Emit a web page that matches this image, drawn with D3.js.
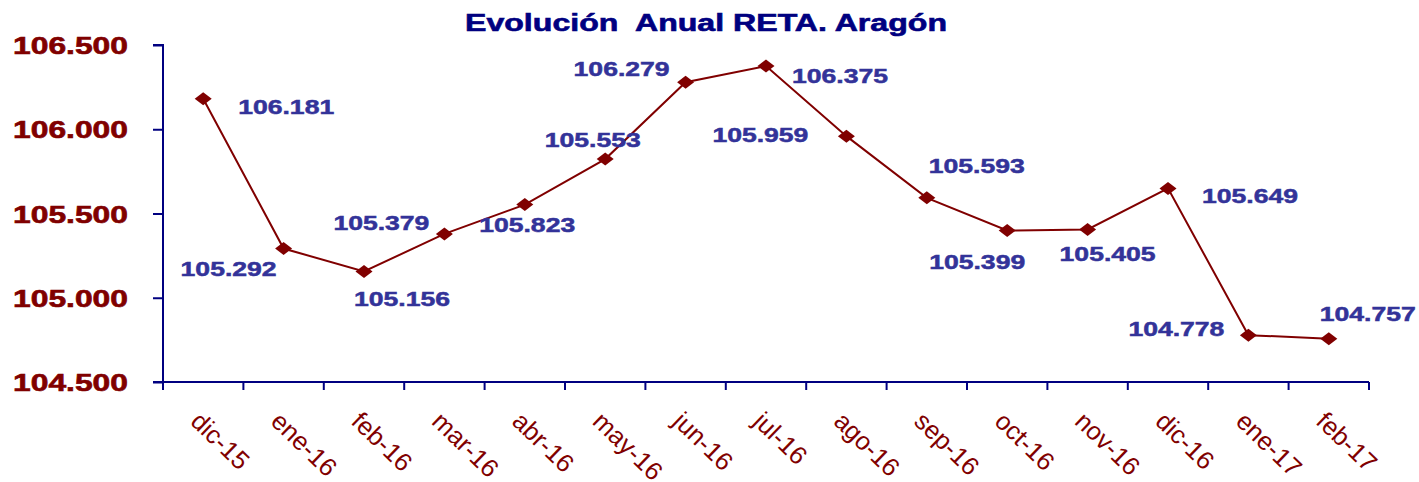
<!DOCTYPE html>
<html>
<head>
<meta charset="utf-8">
<script src="https://cdn.jsdelivr.net/npm/d3@7"></script>
<style>
  html, body { margin: 0; padding: 0; background: #fff; }
  svg { display: block; }
  text { white-space: pre; }
</style>
</head>
<body>
<div id="chart"></div>
<script>
// ---- Data ----
const title = "Evolución  Anual RETA. Aragón";
const categories = ["dic-15","ene-16","feb-16","mar-16","abr-16","may-16","jun-16","jul-16","ago-16","sep-16","oct-16","nov-16","dic-16","ene-17","feb-17"];
const values = [106181, 105292, 105156, 105379, 105553, 105823, 106279, 106375, 105959, 105593, 105399, 105405, 105649, 104778, 104757];
const yTicks = [104500, 105000, 105500, 106000, 106500];

// ---- Layout (label centre offsets from each point, in px) ----
const labelOffsets = [
  [83, 8], [-55, 20], [38, 28], [-63, -11], [68, -65], [-78, 66],
  [-64, -13], [74, 10], [-86, -1], [50, -32], [-30, 31], [20, 24],
  [82, 8], [-72, -6], [39, -25]
];

const W = 1419, H = 482;
const x0 = 163, x1 = 1369, yTop = 45, yBot = 382;

const svg = d3.select("#chart").append("svg").attr("width", W).attr("height", H);

const x = d3.scaleBand().domain(categories).range([x0, x1]).padding(0);
const y = d3.scaleLinear().domain([104500, 106500]).range([yBot, yTop]);

const fmt = v => d3.format(",")(v).replace(/,/g, ".");
const navy = "#000080", red = "#800000", blue = "#333399";
const FONT = "Arial, 'Liberation Sans', sans-serif";

// Title
svg.append("text")
  .attr("x", 706).attr("y", 31)
  .attr("text-anchor", "middle")
  .attr("font-family", FONT)
  .attr("font-weight", "bold").attr("font-size", 23.5)
  .attr("fill", navy).attr("stroke", navy).attr("stroke-width", 0.6)
  .attr("textLength", 482).attr("lengthAdjust", "spacingAndGlyphs")
  .text(title);

// Y axis
const yAxis = d3.axisLeft(y).tickValues(yTicks).tickSize(10).tickFormat("");
const gy = svg.append("g").attr("transform", `translate(${x0},0)`).call(yAxis);
gy.select(".domain").attr("stroke", navy).attr("stroke-width", 2).attr("d", `M-10,${yTop}H0V${yBot}H-10`);
gy.selectAll(".tick line").attr("stroke", navy).attr("stroke-width", 2);

svg.append("g").selectAll("text").data(yTicks).join("text")
  .attr("x", 128).attr("y", d => y(d) + 9)
  .attr("text-anchor", "end")
  .attr("font-family", FONT)
  .attr("font-weight", "bold").attr("font-size", 23)
  .attr("fill", red).attr("stroke", red).attr("stroke-width", 0.6)
  .attr("textLength", 115).attr("lengthAdjust", "spacingAndGlyphs")
  .text(d => fmt(d));

// X axis
const xAxis = d3.axisBottom(x).tickSize(0).tickFormat("");
const gx = svg.append("g").attr("transform", `translate(0,${yBot})`).call(xAxis);
gx.select(".domain").attr("stroke", navy).attr("stroke-width", 2).attr("d", `M${x0},0H${x1}`);
gx.selectAll(".tick").remove();
const bounds = categories.map(c => x(c)).concat([x1]);
svg.append("g").selectAll("line").data(bounds).join("line")
  .attr("x1", d => d).attr("x2", d => d)
  .attr("y1", yBot).attr("y2", yBot + 8)
  .attr("stroke", navy).attr("stroke-width", 2);

svg.append("g").selectAll("text").data(categories).join("text")
  .attr("transform", d => `translate(${x(d) + x.bandwidth()/2 - 14},${423}) rotate(44)`)
  .attr("text-anchor", "start")
  .attr("font-family", FONT)
  .attr("font-size", 25.5)
  .attr("fill", red)
  .text(d => d);

// Line
const cx = (d, i) => x(categories[i]) + x.bandwidth()/2;
const line = d3.line().x((d, i) => cx(d, i)).y(d => y(d));
svg.append("path").datum(values)
  .attr("d", line).attr("fill", "none")
  .attr("stroke", red).attr("stroke-width", 2);

// Markers
svg.append("g").selectAll("path").data(values).join("path")
  .attr("transform", (d, i) => `translate(${cx(d, i)},${y(d)})`)
  .attr("d", "M0,-6.5L8.5,0L0,6.5L-8.5,0Z")
  .attr("fill", red);

// Data labels
svg.append("g").selectAll("text").data(values).join("text")
  .attr("x", (d, i) => cx(d, i) + labelOffsets[i][0])
  .attr("y", (d, i) => y(d) + labelOffsets[i][1] + 7)
  .attr("text-anchor", "middle")
  .attr("font-family", FONT)
  .attr("font-weight", "bold").attr("font-size", 20)
  .attr("fill", blue).attr("stroke", blue).attr("stroke-width", 0.5)
  .attr("textLength", 96).attr("lengthAdjust", "spacingAndGlyphs")
  .text(d => fmt(d));
</script>
</body>
</html>
